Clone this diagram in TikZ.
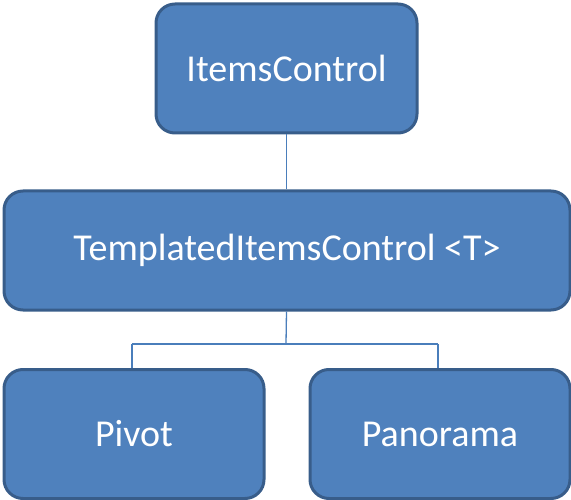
\documentclass[tikz,border=0pt]{standalone}
\usepackage{fontspec}
\setmainfont{Carlito}
\definecolor{boxfill}{HTML}{4F81BD}
\definecolor{boxedge}{HTML}{385D8A}
\definecolor{linkcol}{HTML}{4A7EBB}
\begin{document}
\begin{tikzpicture}[x=1pt,y=-1pt,
  box/.style={draw=boxedge,line width=3pt,fill=boxfill,rounded corners=19pt,
    text=white,font=\fontsize{38}{45}\selectfont,inner sep=0pt,anchor=north west},
  link/.style={draw=linkcol,line width=1.3pt}]
\useasboundingbox (0,0) rectangle (571,500);
\node[box,minimum width=261pt,minimum height=129pt] (ic) at (154.5,2.5) {ItemsControl};
\node[box,minimum width=566pt,minimum height=119pt] (tic) at (2.5,189.5) {TemplatedItemsControl <T>};
\node[box,minimum width=260pt,minimum height=129pt] (pv) at (2.5,368) {Pivot};
\node[box,minimum width=260pt,minimum height=129pt] (pn) at (308.5,368) {Panorama};
\coordinate (mid) at (286,344);
\draw[link] (ic.south) -- (ic.south |- tic.north);
\draw[link] (ic.south |- tic.south) -- (mid);
\draw[link] (132,344) coordinate (l) -- (438,344) coordinate (r);
\draw[link] (l) -- (l |- pv.north);
\draw[link] (r) -- (r |- pn.north);
\end{tikzpicture}
\end{document}
